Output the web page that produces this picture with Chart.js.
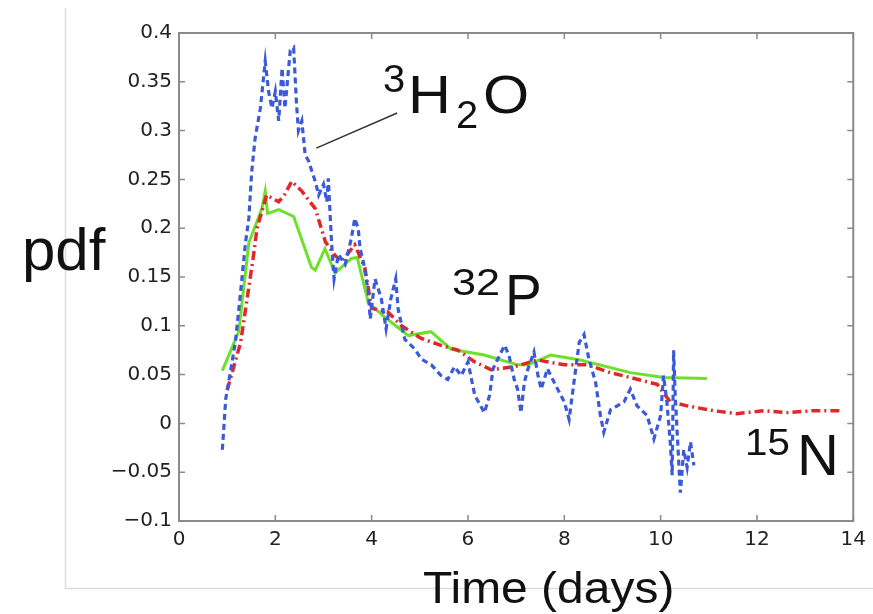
<!DOCTYPE html>
<html>
<head>
<meta charset="utf-8">
<script src="https://cdn.jsdelivr.net/npm/chart.js@4.4.1/dist/chart.umd.min.js"></script>
<style>
  html, body { margin: 0; padding: 0; background: #ffffff; }
  #wrap { width: 873px; height: 614px; }
</style>
</head>
<body>
<div id="wrap"><canvas id="c" width="873" height="614"></canvas></div>
<script>
// ---- data ----
// 3H2O (blue, dashed)
const h2oT = [0.9, 0.97, 1.03, 1.17, 1.28, 1.38, 1.45, 1.51, 1.58, 1.69, 1.79, 1.86, 1.93, 2.0, 2.07, 2.14, 2.2, 2.31, 2.38, 2.44, 2.48, 2.55, 2.62, 2.69, 2.76, 2.83, 2.9, 3.0, 3.07, 3.1, 3.17, 3.22, 3.31, 3.45, 3.58, 3.65, 3.72, 3.76, 3.83, 3.93, 3.97, 4.07, 4.2, 4.3, 4.4, 4.5, 4.55, 4.69, 4.9, 5.03, 5.24, 5.44, 5.58, 5.72, 5.86, 6.0, 6.14, 6.34, 6.45, 6.52, 6.76, 6.85, 6.96, 7.03, 7.1, 7.17, 7.24, 7.37, 7.45, 7.52, 7.65, 7.79, 8.0, 8.1, 8.2, 8.31, 8.41, 8.51, 8.65, 8.75, 8.82, 8.96, 9.1, 9.24, 9.37, 9.51, 9.72, 9.86, 10.0, 10.06, 10.13, 10.2, 10.24, 10.27, 10.3, 10.34, 10.41, 10.48, 10.55, 10.62, 10.69];
const h2oV = [-0.027, 0.025, 0.042, 0.083, 0.135, 0.185, 0.21, 0.258, 0.292, 0.323, 0.371, 0.34, 0.323, 0.34, 0.31, 0.364, 0.323, 0.382, 0.385, 0.327, 0.3, 0.31, 0.275, 0.269, 0.258, 0.248, 0.234, 0.245, 0.227, 0.251, 0.183, 0.148, 0.173, 0.163, 0.19, 0.21, 0.2, 0.179, 0.165, 0.135, 0.107, 0.148, 0.128, 0.097, 0.128, 0.148, 0.117, 0.086, 0.076, 0.066, 0.06, 0.049, 0.045, 0.058, 0.049, 0.063, 0.029, 0.011, 0.029, 0.056, 0.08, 0.07, 0.045, 0.035, 0.011, 0.042, 0.055, 0.073, 0.05, 0.035, 0.056, 0.042, 0.022, 0.004, 0.042, 0.083, 0.091, 0.066, 0.042, 0.008, -0.009, 0.014, 0.018, 0.022, 0.035, 0.018, 0.008, -0.016, 0.008, 0.049, 0.022, -0.019, -0.053, 0.075, 0.032, -0.006, -0.071, -0.027, -0.045, -0.019, -0.043];
// 15N (red, dash-dot)
const n15T = [1.0, 1.28, 1.55, 1.62, 1.82, 2.07, 2.2, 2.34, 2.55, 2.83, 3.04, 3.24, 3.38, 3.65, 3.86, 4.0, 4.34, 4.62, 5.03, 5.44, 5.79, 6.14, 6.48, 6.96, 7.44, 8.0, 8.48, 8.96, 9.37, 9.93, 10.2, 10.55, 11.1, 11.58, 12.14, 12.6, 13.17, 13.75];
const n15V = [0.034, 0.083, 0.173, 0.2, 0.234, 0.227, 0.235, 0.248, 0.238, 0.22, 0.186, 0.172, 0.166, 0.183, 0.159, 0.118, 0.114, 0.1, 0.087, 0.08, 0.075, 0.063, 0.055, 0.058, 0.065, 0.06, 0.06, 0.052, 0.047, 0.04, 0.022, 0.018, 0.013, 0.01, 0.013, 0.011, 0.013, 0.013];
// 32P (green, solid)
const p32T = [0.9, 1.24, 1.45, 1.72, 1.79, 1.84, 2.07, 2.38, 2.75, 2.83, 3.03, 3.24, 3.58, 3.7, 3.93, 4.27, 4.76, 5.23, 5.65, 6.34, 7.03, 7.24, 7.72, 8.33, 9.37, 10.07, 10.96];
const p32V = [0.054, 0.094, 0.185, 0.22, 0.238, 0.215, 0.219, 0.212, 0.16, 0.157, 0.179, 0.154, 0.169, 0.17, 0.124, 0.109, 0.09, 0.094, 0.076, 0.07, 0.06, 0.06, 0.07, 0.065, 0.052, 0.047, 0.046];
// axis ticks
const xTicks = [0, 2, 4, 6, 8, 10, 12, 14];
const yTicks = [-0.1, -0.05, 0, 0.05, 0.1, 0.15, 0.2, 0.25, 0.3, 0.35, 0.4];

const toPts = (t, v) => t.map((x, i) => ({ x: x, y: v[i] }));

const decor = {
  id: 'decor',
  beforeDraw(chart) {
    const ctx = chart.ctx;
    ctx.save();
    ctx.fillStyle = '#ffffff';
    ctx.fillRect(0, 0, chart.width, chart.height);
    ctx.strokeStyle = '#dcdcdc';
    ctx.lineWidth = 1.5;
    ctx.beginPath();
    ctx.moveTo(65.5, 8);
    ctx.lineTo(65.5, 588.5);
    ctx.lineTo(873, 588.5);
    ctx.stroke();
    ctx.restore();
  },
  afterDraw(chart) {
    const ctx = chart.ctx;
    const a = chart.chartArea;
    const xs = chart.scales.x, ys = chart.scales.y;
    ctx.save();
    // box
    ctx.strokeStyle = '#8a8a8a';
    ctx.lineWidth = 2;
    ctx.strokeRect(a.left, a.top, a.right - a.left, a.bottom - a.top);
    // inside ticks on all sides
    ctx.lineWidth = 1.5;
    ctx.beginPath();
    xTicks.forEach(t => {
      const px = xs.getPixelForValue(t);
      ctx.moveTo(px, a.bottom); ctx.lineTo(px, a.bottom - 6);
      ctx.moveTo(px, a.top); ctx.lineTo(px, a.top + 6);
    });
    yTicks.forEach(v => {
      const py = ys.getPixelForValue(v);
      ctx.moveTo(a.left, py); ctx.lineTo(a.left + 6, py);
      ctx.moveTo(a.right, py); ctx.lineTo(a.right - 6, py);
    });
    ctx.stroke();

    // leader line to 3H2O label
    ctx.strokeStyle = '#333333';
    ctx.lineWidth = 1.5;
    ctx.beginPath();
    ctx.moveTo(xs.getPixelForValue(2.85), ys.getPixelForValue(0.282));
    ctx.lineTo(xs.getPixelForValue(4.53), ys.getPixelForValue(0.318));
    ctx.stroke();

    // text
    ctx.fillStyle = '#111111';
    ctx.textBaseline = 'alphabetic';
    ctx.textAlign = 'left';
    const txt = (s, x, y, size, sx) => {
      ctx.save();
      ctx.translate(x, y);
      ctx.scale(sx || 1, 1);
      ctx.font = size + 'px "Liberation Sans", Arial, sans-serif';
      ctx.fillText(s, 0, 0);
      ctx.restore();
    };
    txt('pdf', 22, 270, 60, 1);
    txt('Time (days)', 423, 603, 44, 1.09);
    // 3H2O
    txt('3', 383, 92, 38, 1.05);
    txt('H', 408, 113, 54, 1.1);
    txt('2', 456, 128, 38, 1.05);
    txt('O', 483, 113, 54, 1.1);
    // 32P
    txt('32', 452, 295, 36, 1.2);
    txt('P', 505, 315, 58, 0.95);
    // 15N
    txt('15', 745, 455, 36, 1.12);
    txt('N', 797, 475, 58, 1.0);
    ctx.restore();
  }
};

new Chart(document.getElementById('c'), {
  type: 'line',
  data: {
    datasets: [
      {
        label: '3H2O',
        data: toPts(h2oT, h2oV),
        borderColor: '#3a5ad8',
        borderWidth: 3.2,
        borderDash: [6, 4],
        pointRadius: 0,
        tension: 0,
        fill: false
      },
      {
        label: '15N',
        data: toPts(n15T, n15V),
        borderColor: '#e0282b',
        borderWidth: 3.5,
        borderDash: [9, 4, 2, 4],
        pointRadius: 0,
        tension: 0,
        fill: false
      },
      {
        label: '32P',
        data: toPts(p32T, p32V),
        borderColor: '#6ee02c',
        borderWidth: 3,
        pointRadius: 0,
        tension: 0,
        fill: false
      }
    ]
  },
  options: {
    responsive: false,
    animation: false,
    devicePixelRatio: 1,
    layout: { padding: { top: 33, right: 17, left: 0, bottom: 0 } },
    plugins: { legend: { display: false }, tooltip: { enabled: false } },
    scales: {
      x: {
        type: 'linear',
        min: 0, max: 14,
        afterFit(s) { s.height = 93; },
        afterBuildTicks(s) { s.ticks = xTicks.map(v => ({ value: v })); },
        grid: { display: false, drawTicks: false },
        border: { display: false },
        ticks: {
          padding: 7,
          color: '#222222',
          font: { family: '"DejaVu Sans", sans-serif', size: 20 },
          callback: v => String(v)
        }
      },
      y: {
        type: 'linear',
        min: -0.1, max: 0.4,
        afterFit(s) { s.width = 179; },
        afterBuildTicks(s) { s.ticks = yTicks.map(v => ({ value: v })); },
        grid: { display: false, drawTicks: false },
        border: { display: false },
        ticks: {
          padding: 7,
          color: '#222222',
          font: { family: '"DejaVu Sans", sans-serif', size: 20 },
          callback: v => String(Math.round(v * 100) / 100).replace('-', '\u2212')
        }
      }
    }
  },
  plugins: [decor]
});
</script>
</body>
</html>
